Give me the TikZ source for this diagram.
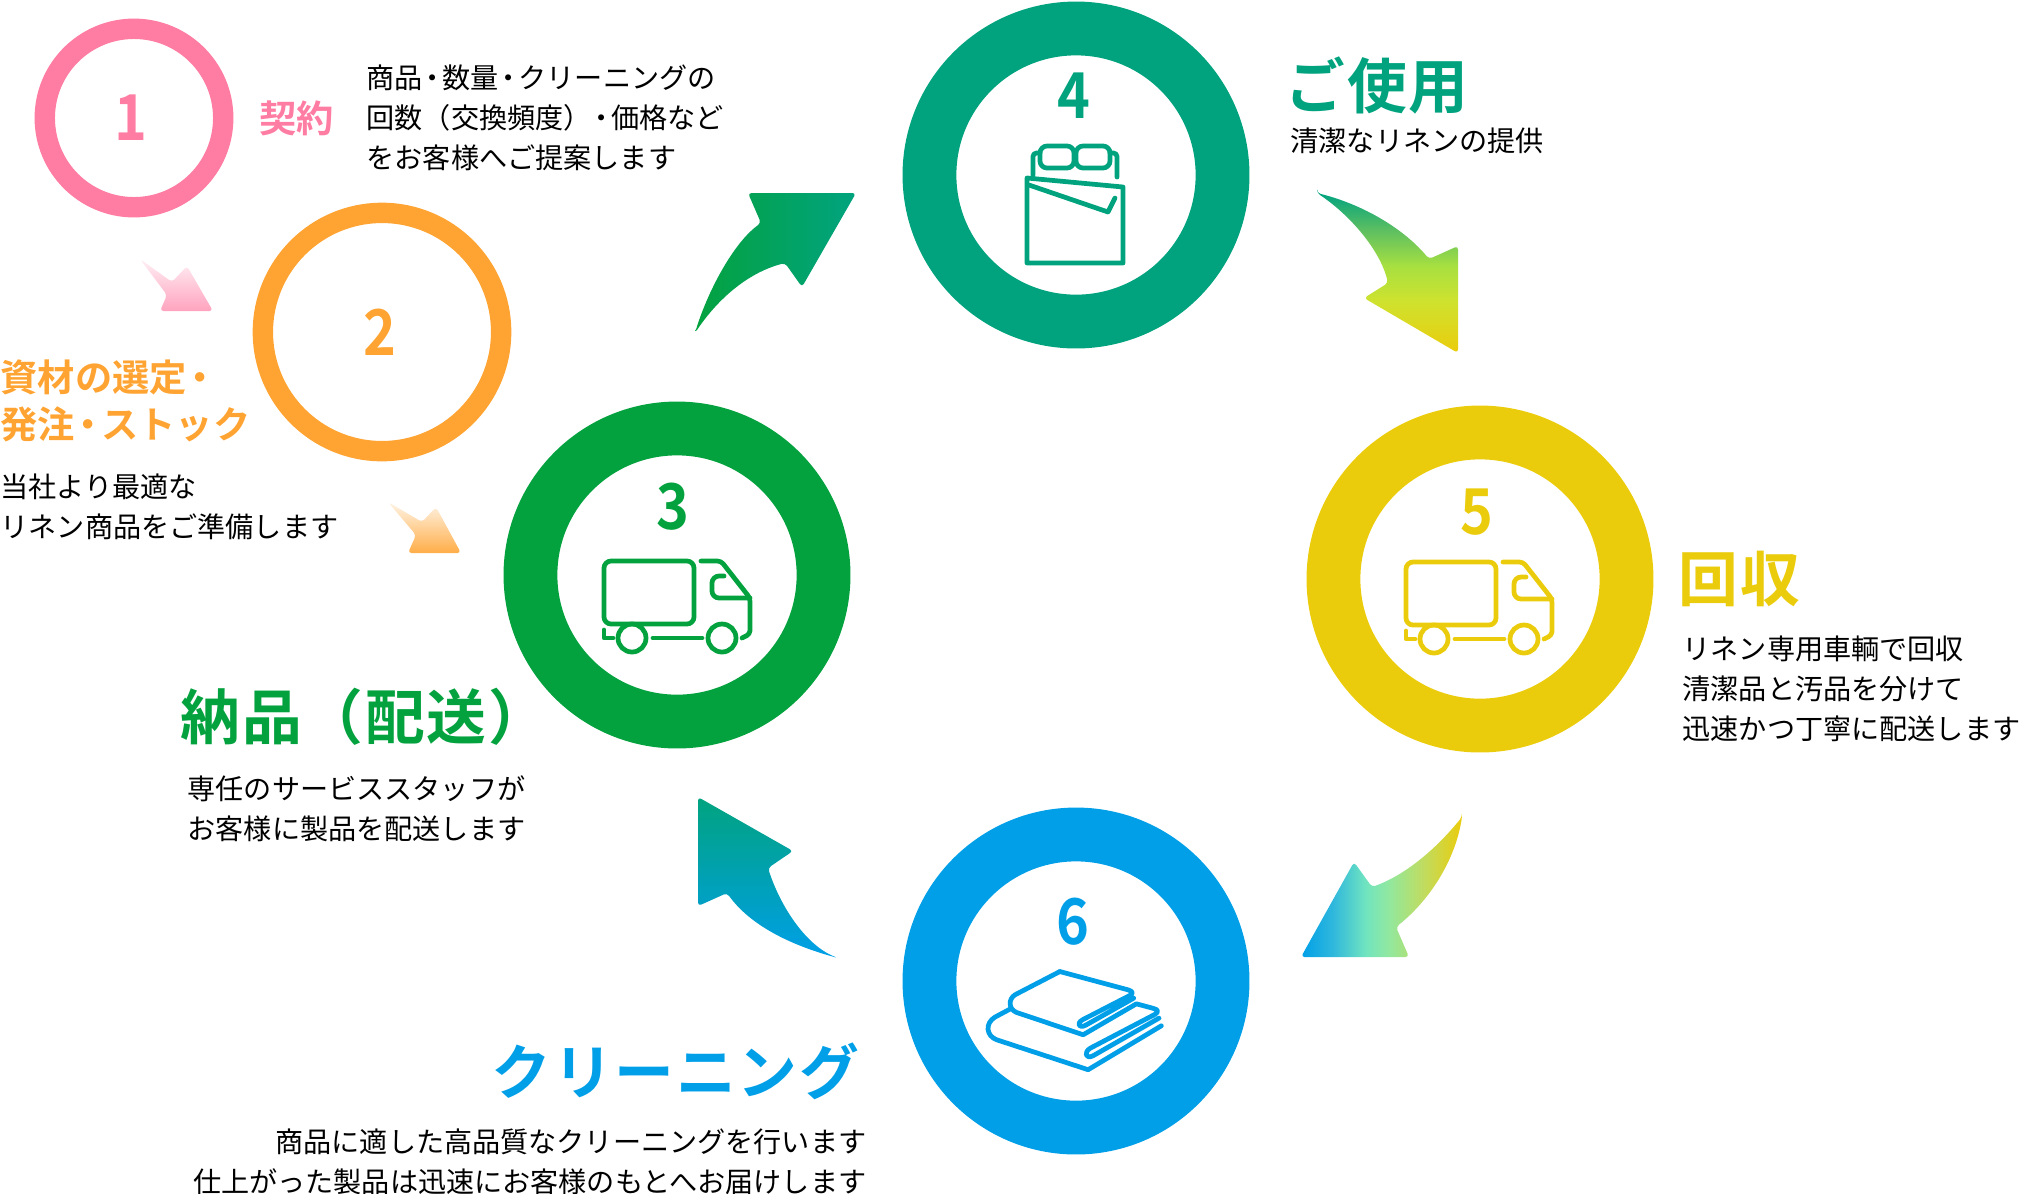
\documentclass[tikz,border=0pt]{standalone}
\usepackage{fontspec}
\setmainfont{Noto Sans CJK JP}
\newfontfamily\boldjp[LetterSpace=3]{Noto Sans CJK JP Bold}
\newfontfamily\medjp{Noto Sans CJK JP Bold}
\newfontfamily\numjp[FakeStretch=.88]{Noto Sans CJK JP Bold}
\usetikzlibrary{positioning}
\definecolor{pinkc}{HTML}{FF7CA3}
\definecolor{orangec}{HTML}{FFA433}
\definecolor{greenc}{HTML}{04A23F}
\definecolor{tealc}{HTML}{01A37F}
\definecolor{yellowc}{HTML}{EBCC0C}
\definecolor{bluec}{HTML}{009FE8}
\definecolor{limea}{HTML}{CFE22E}
\definecolor{limeb}{HTML}{A8E040}
\definecolor{limec}{HTML}{60C060}
\definecolor{minta}{HTML}{70E4C0}
\definecolor{mintb}{HTML}{90E8A0}
\definecolor{skya}{HTML}{30B8DC}
\definecolor{olivea}{HTML}{C0DC60}
\pgfdeclareverticalshading{arrowdown}{100bp}{color(0bp)=(yellowc); color(25bp)=(yellowc); color(41bp)=(limea); color(52bp)=(limeb); color(63bp)=(limec); color(75bp)=(tealc); color(100bp)=(tealc)}
\pgfdeclarehorizontalshading{arrowleft}{100bp}{color(0bp)=(bluec); color(25bp)=(bluec); color(35bp)=(skya); color(45bp)=(minta); color(52bp)=(mintb); color(63bp)=(olivea); color(75bp)=(yellowc); color(100bp)=(yellowc)}
\newcommand{\dt}{\kern-.15em・\kern-.15em}
\tikzset{
  ringsmall/.style={circle, draw=#1, line width=5.8pt, inner sep=0pt},
  ringbig/.style={circle, draw=#1, line width=54*.2835pt, minimum size=294*.2835pt, inner sep=0pt},
  digit/.style={font=\numjp\fontsize{18}{18}\selectfont, text=#1},
  headbig/.style={font=\boldjp\fontsize{17}{20}\selectfont, text=#1, anchor=west, inner sep=0pt},
  headsmall/.style={font=\medjp\fontsize{10.6}{13.4}\selectfont, text=#1, anchor=west, inner sep=0pt, align=left},
  body/.style={font=\fontsize{8}{11.3}\selectfont, text=black, anchor=west, inner sep=0pt, align=left},
  icon/.style={draw=#1, line width=1.35pt, line cap=round, line join=round},
}
\begin{document}
\begin{tikzpicture}[x=.01cm, y=-.01cm]
  \useasboundingbox (0,0) rectangle (2021,1193);

  % rings
  \node[ringsmall=pinkc, minimum size=179*.2835pt] (one) at (134,118) {};
  \node[ringsmall=orangec, minimum size=239*.2835pt] (two) at (382,332) {};
  \node[ringbig=greenc] (three) at (677,575) {};
  \node[ringbig=tealc] (four) at (1076,175) {};
  \node[ringbig=yellowc] (five) at (1480,579) {};
  \node[ringbig=bluec] (six) at (1076,981) {};

  % digits
  \node[digit=pinkc] (numa) at (131,118) {1};
  \node[digit=orangec] (numb) at (380,332) {2};
  \node[digit=greenc] (numc) at (673,507) {3};
  \node[digit=tealc] (numd) at (1074,96) {4};
  \node[digit=yellowc] (nume) at (1477,512) {5};
  \node[digit=bluec] (numf) at (1073,922) {6};

  % arrows
  \shade[top color=pinkc!12, bottom color=pinkc!70, rounded corners=1pt]
    (140,259) -- (172,282) -- (187,266) -- (213,311) -- (160,311) -- (167,295) -- cycle;
  \shade[top color=orangec!12, bottom color=orangec!90, rounded corners=1pt]
    (388,502) -- (422,522) -- (436,507) -- (461,553) -- (408,553) -- (416,535) -- cycle;
  \shade[left color=greenc, right color=tealc, rounded corners=1pt]
    (695,333) .. controls (707,293) and (733,243) .. (761,223) -- (748,193) -- (856,193) -- (802,287) -- (785,263) .. controls (747,273) and (717,300) .. (695,333) -- cycle;
  \shade[shading=arrowdown, rounded corners=1pt]
    (1317,193) .. controls (1365,205) and (1405,230) .. (1429,259) -- (1458,246) -- (1458,353) -- (1364,298) -- (1388,283) .. controls (1380,250) and (1350,215) .. (1317,193) -- cycle;
  \shade[shading=arrowleft, rounded corners=1pt]
    (1462,817) .. controls (1435,850) and (1405,875) .. (1372,887) -- (1354,862) -- (1301,957) -- (1409,957) -- (1396,927) .. controls (1430,900) and (1455,860) .. (1462,817) -- cycle;
  \shade[top color=tealc, bottom color=bluec, rounded corners=1pt]
    (698,797) -- (793,851) -- (768,868) .. controls (780,905) and (805,945) .. (838,958) .. controls (790,945) and (750,925) .. (727,893) -- (698,906) -- cycle;

  % titles
  \node[headsmall=pinkc] (keiyaku) at (259,118) {契約};
  \node[headsmall=orangec] (shizai) at (0,401) {資材の選定\dt\\発注\dt ストック};
  \node[headbig=greenc] (nohin) at (180,717) {納品（配送）};
  \node[headbig=tealc] (goshiyo) at (1285,85) {ご使用};
  \node[headbig=yellowc] (kaishu) at (1678,579) {回収};
  \node[headbig=bluec, anchor=east] (cleaning) at (860,1071) {クリーニング};

  % texts
  \node[body] (txta) at (366,118) {商品\dt 数量\dt クリーニングの\\回数（交換頻度）\dt 価格など\\をお客様へご提案します};
  \node[body] (txtb) at (0,507) {当社より最適な\\リネン商品をご準備します};
  \node[body] (txtc) at (187,809) {専任のサービススタッフが\\お客様に製品を配送します};
  \node[body] (txtd) at (1290,141) {清潔なリネンの提供};
  \node[body] (txte) at (1682,689) {リネン専用車輌で回収\\清潔品と汚品を分けて\\迅速かつ丁寧に配送します};
  \node[body, anchor=east, align=right] (txtf) at (867,1162) {商品に適した高品質なクリーニングを行います\\仕上がった製品は迅速にお客様のもとへお届けします};

  % bed
  \draw[icon=tealc] (1027,178) -- (1123,187) -- (1123,263) -- (1027,263) -- cycle;
  \draw[icon=tealc] (1029,185) -- (1108,212) -- (1115,198);
  \draw[icon=tealc, rounded corners=2pt] (1040,146) rectangle (1074,168);
  \draw[icon=tealc, rounded corners=2pt] (1076,146) rectangle (1110,168);
  \draw[icon=tealc, rounded corners=1pt] (1033,175) -- (1033,153) -- (1040,153);
  \draw[icon=tealc, rounded corners=1pt] (1117,177) -- (1117,153) -- (1110,153);

  % trucks
  \foreach \dx/\dy/\col in {0/0/greenc, 802/1/yellowc}{
    \begin{scope}[shift={(\dx,\dy)}]
      \draw[icon=\col, rounded corners=2pt] (604,561) rectangle (694,624);
      \draw[icon=\col, rounded corners=1pt] (701,561) -- (721,561) -- (750,598) -- (750,634) -- (742,638);
      \draw[icon=\col, rounded corners=2pt] (724,576) -- (712,576) -- (712,598) -- (750,598);
      \draw[icon=\col] (632,638) circle (14);
      \draw[icon=\col] (722,638) circle (14);
      \draw[icon=\col] (653,638) -- (702,638);
      \draw[icon=\col] (604,630) -- (604,638) -- (613,638);
    \end{scope}
  }

  % towels
  \begin{scope}[shift={(960,880)}, x=.00333cm, y=-.00333cm]
    \draw[icon=bluec] (300,275) -- (505,330) .. controls (522,335) and (520,342) .. (510,347) -- (368,420) .. controls (348,432) and (358,447) .. (378,436) -- (522,355);
    \draw[icon=bluec] (300,275) -- (165,345) .. controls (145,358) and (145,388) .. (170,398) -- (370,465) -- (530,372) -- (582,386) .. controls (598,390) and (596,398) .. (585,404) -- (392,505) .. controls (370,518) and (378,540) .. (400,528) -- (598,415);
    \draw[icon=bluec] (150,388) -- (105,412) .. controls (75,430) and (78,468) .. (110,480) -- (385,570) -- (605,438);
  \end{scope}
\end{tikzpicture}
\end{document}
